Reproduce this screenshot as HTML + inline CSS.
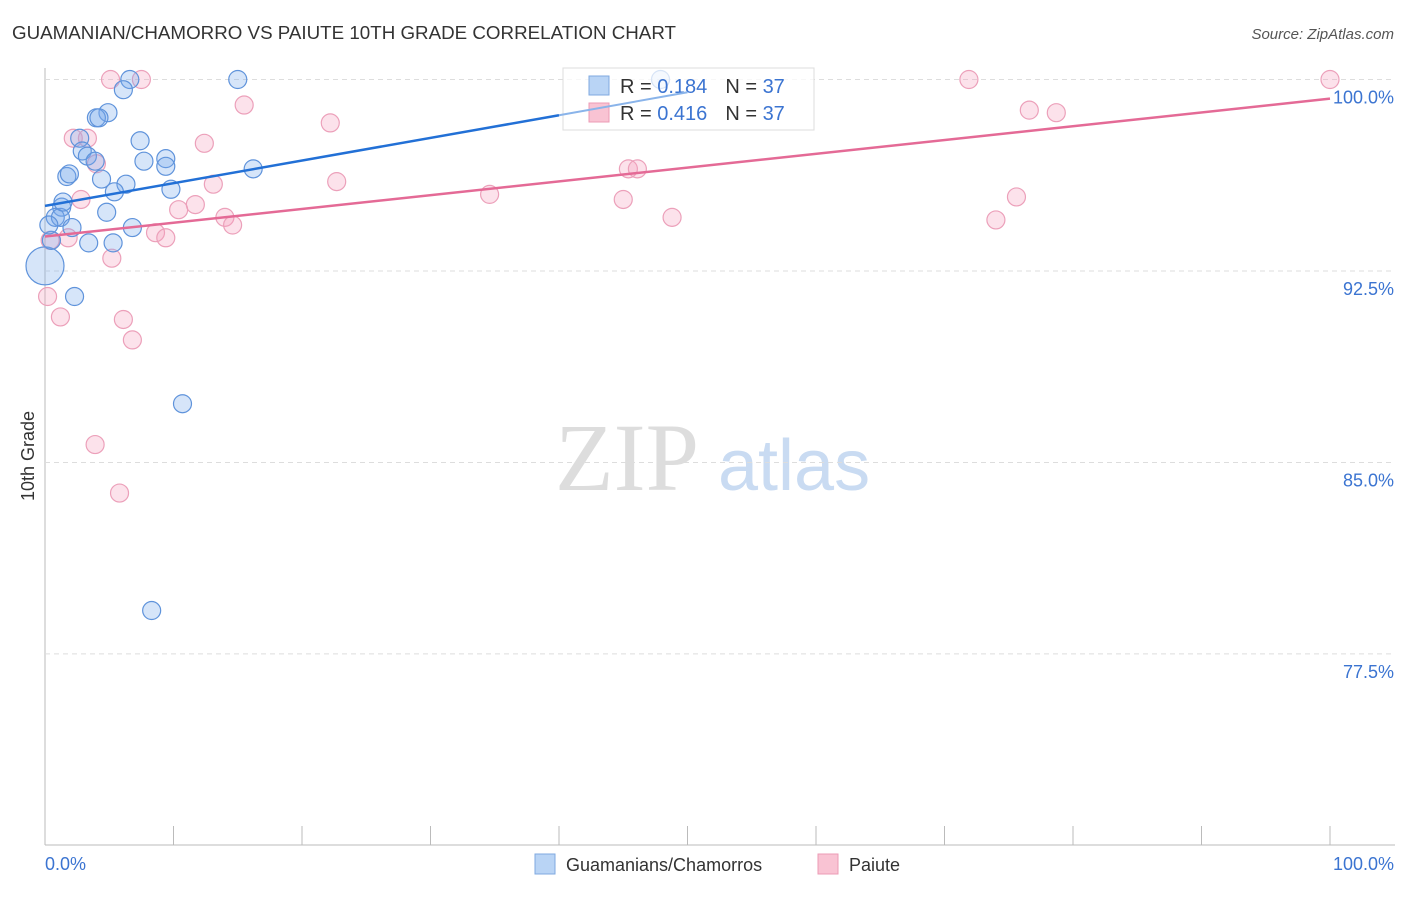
<!DOCTYPE html>
<html><head><meta charset="utf-8"><style>
body{margin:0;background:#fff;font-family:"Liberation Sans",sans-serif}
</style></head><body>
<svg id="c" width="1406" height="892" xmlns="http://www.w3.org/2000/svg" font-family="Liberation Sans, sans-serif">
<text x="12" y="39" font-size="18" fill="#333" textLength="664" lengthAdjust="spacingAndGlyphs">GUAMANIAN/CHAMORRO VS PAIUTE 10TH GRADE CORRELATION CHART</text>
<text x="1394" y="39" font-size="15" fill="#555" text-anchor="end" font-style="italic">Source: ZipAtlas.com</text>
<text x="34" y="456" font-size="18" fill="#333" text-anchor="middle" transform="rotate(-90 34 456)">10th Grade</text>
<text x="555" y="490" font-size="96" fill="#ddd" font-family="Liberation Serif, serif">ZIP</text>
<text x="718" y="490" font-size="72" fill="#c9dbf2">atlas</text>
<g id="grid"></g><g id="pts"></g><g id="trend"></g>
<g>
<rect x="563" y="68" width="251" height="62" fill="rgba(255,255,255,0.75)" stroke="#ddd"/>
<rect x="589" y="76" width="20" height="19" fill="#b9d4f5" stroke="#7fa9e0"/>
<rect x="589" y="103" width="20" height="19" fill="#f9c3d3" stroke="#ec9bb6"/>
<text x="620" y="93" font-size="20" fill="#333">R = <tspan fill="#3b74d1">0.184</tspan><tspan dx="18">N = </tspan><tspan fill="#3b74d1">37</tspan></text>
<text x="620" y="120" font-size="20" fill="#333">R = <tspan fill="#3b74d1">0.416</tspan><tspan dx="18">N = </tspan><tspan fill="#3b74d1">37</tspan></text>
</g>
<g id="trend2"></g>
<text x="45" y="870" font-size="18" fill="#3b74d1">0.0%</text>
<text x="1394" y="870" font-size="18" fill="#3b74d1" text-anchor="end">100.0%</text>
<g>
<rect x="535" y="854" width="20" height="20" fill="#b9d4f5" stroke="#7fa9e0"/>
<text x="566" y="871" font-size="18" fill="#333">Guamanians/Chamorros</text>
<rect x="818" y="854" width="20" height="20" fill="#f9c3d3" stroke="#ec9bb6"/>
<text x="849" y="871" font-size="18" fill="#333">Paiute</text>
</g>
</svg>
<script>
const yTicks=[100,92.5,85,77.5];
const yTickLabels=["100.0%","92.5%","85.0%","77.5%"];
const xTicks=[0,10,20,30,40,50,60,70,80,90,100];
const blueX=[6.6,15.0,6.1,4.9,4.0,7.4,2.7,2.9,3.3,7.7,9.4,9.4,3.9,1.7,1.9,4.4,6.3,5.4,9.8,16.2,4.8,1.3,0.8,1.2,2.1,6.8,3.4,5.3,0,2.3,10.7,8.3,47.9,0.5,1.4,0.3,4.2];
const blueY=[100,100,99.6,98.7,98.5,97.6,97.7,97.2,97.0,96.8,96.9,96.6,96.8,96.2,96.3,96.1,95.9,95.6,95.7,96.5,94.8,95.0,94.6,94.6,94.2,94.2,93.6,93.6,92.7,91.5,87.3,79.2,100,93.7,95.2,94.3,98.5];
const blueR=[9,9,9,9,9,9,9,9,9,9,9,9,9,9,9,9,9,9,9,9,9,9,9,9,9,9,9,9,19,9,9,9,9,9,9,9,9];
const pinkX=[5.1,7.5,15.5,12.4,22.2,2.2,3.3,4.0,13.1,22.7,2.8,10.4,11.7,14.0,14.6,8.6,9.4,1.8,0.4,5.2,0.2,1.2,6.1,6.8,3.9,5.8,34.6,45.4,46.1,45.0,48.8,71.9,76.6,78.7,75.6,74.0,100];
const pinkY=[100,100,99.0,97.5,98.3,97.7,97.7,96.7,95.9,96.0,95.3,94.9,95.1,94.6,94.3,94.0,93.8,93.8,93.7,93.0,91.5,90.7,90.6,89.8,85.7,83.8,95.5,96.5,96.5,95.3,94.6,100,98.8,98.7,95.4,94.5,100];
const blueTrend=[[0,95.05],[40,98.6],[50,99.5]];
const pinkTrend=[[0,93.85],[100,99.25]];
const X=v=>45+v*12.85, Y=v=>79.5+(100-v)*25.53;
const NS="http://www.w3.org/2000/svg";
function mk(t,a,p){const e=document.createElementNS(NS,t);for(const k in a)e.setAttribute(k,a[k]);p.appendChild(e);return e;}
const g=document.getElementById('grid');
mk('line',{x1:45,y1:68,x2:45,y2:845,stroke:'#bbb'},g);
mk('line',{x1:45,y1:845,x2:1395,y2:845,stroke:'#bbb'},g);
yTicks.forEach((t,i)=>{
 const l=mk('line',{x1:45,y1:Y(t),x2:1395,y2:Y(t),stroke:'#ddd','stroke-dasharray':'5,4'},g);
 
 
 const tx=mk('text',{x:1394,y:Y(t)+24,'font-size':18,fill:'#3b74d1','text-anchor':'end'},g);
 tx.textContent=yTickLabels[i];
 
 
});
xTicks.forEach(t=>{
 const l=mk('line',{x1:X(t),y1:826,x2:X(t),y2:845,stroke:'#bbb'},g);
 
 
});
const p=document.getElementById('pts');
pinkX.forEach((x,i)=>{
 const c=mk('circle',{cx:X(x),cy:Y(pinkY[i]),r:9,fill:'rgba(244,160,188,0.3)',stroke:'#eca0ba','stroke-width':1.2},p);
 
 
});
blueX.forEach((x,i)=>{
 const c=mk('circle',{cx:X(x),cy:Y(blueY[i]),r:blueR[i],fill:'rgba(120,170,235,0.3)',stroke:'#5f93db','stroke-width':1.2},p);
 
 
});
const tr=document.getElementById('trend');
const tr2=document.getElementById('trend2');
const b1=mk('line',{x1:X(blueTrend[0][0]),y1:Y(blueTrend[0][1]),x2:X(blueTrend[1][0]),y2:Y(blueTrend[1][1]),stroke:'#2270d6','stroke-width':2.5},tr);


const b2=mk('line',{x1:X(blueTrend[1][0]),y1:Y(blueTrend[1][1]),x2:X(blueTrend[2][0]),y2:Y(blueTrend[2][1]),stroke:'#8ab4ea','stroke-width':2},tr2);


const pl=mk('line',{x1:X(pinkTrend[0][0]),y1:Y(pinkTrend[0][1]),x2:X(pinkTrend[1][0]),y2:Y(pinkTrend[1][1]),stroke:'#e46a96','stroke-width':2.5},tr);


</script>
</body></html>
